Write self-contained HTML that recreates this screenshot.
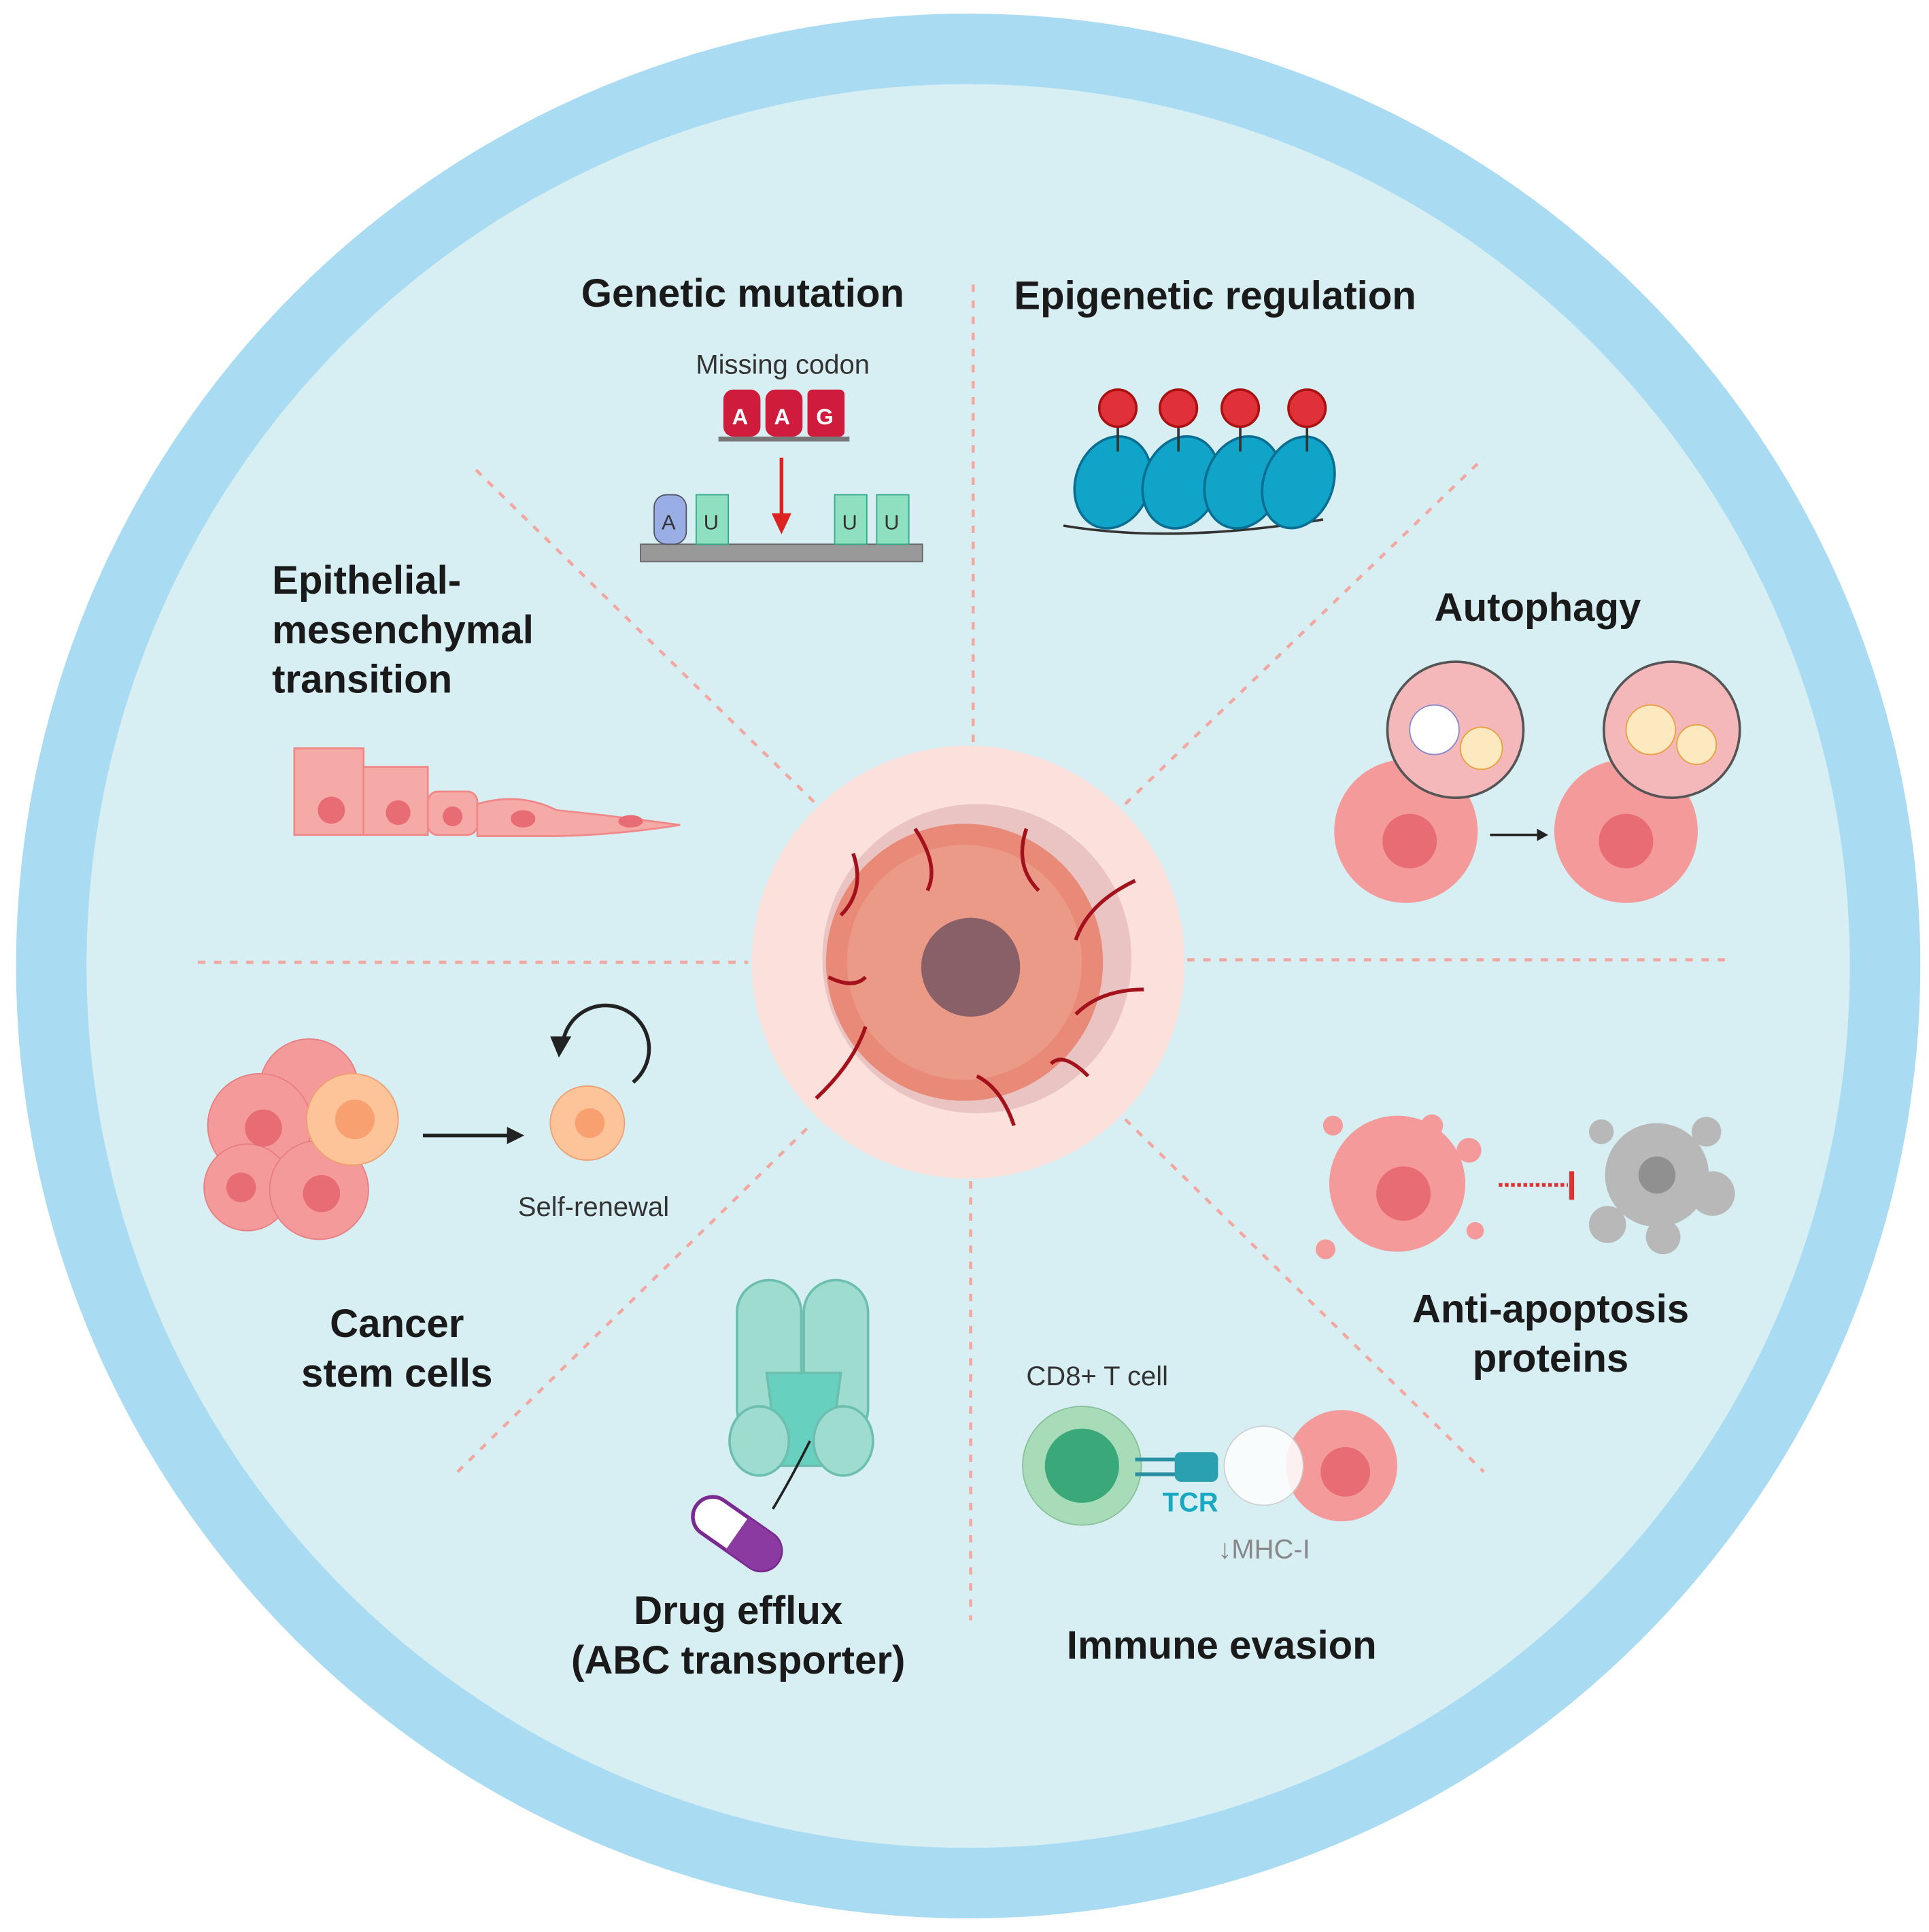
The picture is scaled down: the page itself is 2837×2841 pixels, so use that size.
<!DOCTYPE html>
<html><head><meta charset="utf-8"><style>
html,body{margin:0;padding:0;background:#fff}
svg{display:block}
text{font-family:"Liberation Sans",sans-serif}
.t{font-weight:bold;font-size:32px;fill:#1a1a1a}
.s{font-size:22px;fill:#333}
</style></head><body>
<svg width="2837" height="2841" viewBox="0 0 1560 1562" preserveAspectRatio="none" xmlns="http://www.w3.org/2000/svg">
<rect width="1560" height="1562" fill="#fff"/>
<circle cx="783" cy="781" r="770" fill="#a9dcf3"/>
<circle cx="783" cy="781" r="713" fill="#d7eff3"/>
<g stroke="#f2a8a0" stroke-width="2.5" stroke-dasharray="6 7" fill="none">
<line x1="787" y1="230" x2="787" y2="600"/>
<line x1="785" y1="955" x2="785" y2="1310"/>
<line x1="160" y1="778" x2="605" y2="778"/>
<line x1="960" y1="776" x2="1400" y2="776"/>
<line x1="385" y1="380" x2="660" y2="650"/>
<line x1="910" y1="650" x2="1200" y2="370"/>
<line x1="370" y1="1190" x2="655" y2="910"/>
<line x1="910" y1="905" x2="1200" y2="1190"/>
</g>
<circle cx="783" cy="778" r="175" fill="#fbe0dc"/>
<circle cx="790" cy="775" r="125" fill="#d9a8a8" opacity="0.5"/>
<circle cx="780" cy="778" r="112" fill="#e98a78"/>
<circle cx="780" cy="778" r="95" fill="#ec9a88"/>
<circle cx="785" cy="782" r="40" fill="#8a6068"/>
<g stroke="#a3121c" stroke-width="3" fill="none">
<path d="M690 690 Q700 720 680 740 M740 670 Q760 700 750 720 M830 670 Q820 700 840 720 M918 712 Q880 730 870 760 M925 800 Q890 800 870 820 M820 910 Q810 880 790 870 M660 888 Q690 860 700 830 M670 790 Q690 800 700 790 M880 870 Q860 850 850 860"/>
</g>
<!-- Titles -->
<text class="t" x="470" y="248">Genetic mutation</text>
<text class="t" x="820" y="250">Epigenetic regulation</text>
<text class="t" x="1160" y="502">Autophagy</text>
<text class="t" x="220" y="480">Epithelial-</text>
<text class="t" x="220" y="520">mesenchymal</text>
<text class="t" x="220" y="560">transition</text>
<text class="t" x="321" y="1081" text-anchor="middle">Cancer</text>
<text class="t" x="321" y="1121" text-anchor="middle">stem cells</text>
<text class="t" x="597" y="1313" text-anchor="middle">Drug efflux</text>
<text class="t" x="597" y="1353" text-anchor="middle">(ABC transporter)</text>
<text class="t" x="988" y="1341" text-anchor="middle">Immune evasion</text>
<text class="t" x="1254" y="1069" text-anchor="middle">Anti-apoptosis</text>
<text class="t" x="1254" y="1109" text-anchor="middle">proteins</text>
<!-- Genetic mutation -->
<text class="s" x="633" y="302" text-anchor="middle">Missing codon</text>
<g fill="#d01c3c"><rect x="585" y="315" width="30" height="38" rx="8"/><rect x="619" y="315" width="30" height="38" rx="8"/><rect x="653" y="315" width="30" height="38" rx="4"/></g>
<g fill="#fff" font-size="18" font-weight="bold" font-family="Liberation Sans"><text x="592" y="343">A</text><text x="626" y="343">A</text><text x="660" y="343">G</text></g>
<rect x="581" y="353" width="106" height="4" fill="#777"/>
<line x1="632" y1="370" x2="632" y2="420" stroke="#d22" stroke-width="3"/><polygon points="624,415 640,415 632,432" fill="#d22"/>
<rect x="518" y="440" width="228" height="14" fill="#999" stroke="#666"/>
<rect x="529" y="400" width="26" height="40" rx="10" fill="#9aaee6" stroke="#556"/>
<rect x="563" y="400" width="26" height="40" fill="#8fe0c0" stroke="#3a8"/>
<rect x="675" y="400" width="26" height="40" fill="#8fe0c0" stroke="#3a8"/>
<rect x="709" y="400" width="26" height="40" fill="#8fe0c0" stroke="#3a8"/>
<g font-size="17" fill="#333"><text x="535" y="428">A</text><text x="569" y="428">U</text><text x="681" y="428">U</text><text x="715" y="428">U</text></g>
<!-- Epigenetic -->
<path d="M860 425 Q950 440 1070 420" stroke="#333" stroke-width="2" fill="none"/>
<g fill="#10a5c8" stroke="#0a6e92" stroke-width="2">
<ellipse cx="900" cy="390" rx="30" ry="38" transform="rotate(20 900 390)"/>
<ellipse cx="955" cy="390" rx="30" ry="38" transform="rotate(20 955 390)"/>
<ellipse cx="1005" cy="390" rx="30" ry="38" transform="rotate(20 1005 390)"/>
<ellipse cx="1050" cy="390" rx="28" ry="38" transform="rotate(20 1050 390)"/>
</g>
<g stroke="#333" stroke-width="2"><line x1="904" y1="345" x2="904" y2="365"/><line x1="953" y1="345" x2="953" y2="365"/><line x1="1003" y1="345" x2="1003" y2="365"/><line x1="1057" y1="345" x2="1057" y2="365"/></g>
<g fill="#e0303a" stroke="#a11" stroke-width="2"><circle cx="904" cy="330" r="15"/><circle cx="953" cy="330" r="15"/><circle cx="1003" cy="330" r="15"/><circle cx="1057" cy="330" r="15"/></g>
<!-- Autophagy -->
<g fill="#f49a9a"><circle cx="1137" cy="672" r="58"/><circle cx="1315" cy="672" r="58"/></g>
<g fill="#e86c74"><circle cx="1140" cy="680" r="22"/><circle cx="1315" cy="680" r="22"/></g>
<g stroke="#555" stroke-width="2" fill="#f4b8ba"><circle cx="1177" cy="590" r="55"/><circle cx="1352" cy="590" r="55"/></g>
<circle cx="1160" cy="590" r="20" fill="#fff" stroke="#88c"/><circle cx="1198" cy="605" r="17" fill="#fde9c0" stroke="#e9a040"/>
<circle cx="1335" cy="590" r="20" fill="#fde9c0" stroke="#e9a040"/><circle cx="1372" cy="602" r="16" fill="#fde9c0" stroke="#e9a040"/>
<line x1="1205" y1="675" x2="1245" y2="675" stroke="#222" stroke-width="2"/><polygon points="1243,670 1252,675 1243,680" fill="#222"/>
<!-- EMT cells -->
<g fill="#f6aaa8" stroke="#f08888" stroke-width="1.5">
<rect x="238" y="605" width="56" height="70"/><rect x="294" y="620" width="52" height="55"/><rect x="346" y="640" width="40" height="35" rx="8"/>
<path d="M386 650 Q420 640 450 655 Q500 660 550 667 Q500 675 450 676 L386 676Z"/>
</g>
<g fill="#e86c74"><circle cx="268" cy="655" r="11"/><circle cx="322" cy="657" r="10"/><circle cx="366" cy="660" r="8"/><ellipse cx="423" cy="662" rx="10" ry="7"/><ellipse cx="510" cy="664" rx="10" ry="5"/></g>
<!-- Cancer stem cells -->
<g fill="#f49a9a" stroke="#e87e82"><circle cx="250" cy="880" r="40"/><circle cx="210" cy="910" r="42"/><circle cx="200" cy="960" r="35"/><circle cx="258" cy="962" r="40"/></g>
<circle cx="285" cy="905" r="37" fill="#fdc49a" stroke="#f0a070"/><circle cx="287" cy="905" r="16" fill="#f8a070"/>
<g fill="#e86c74"><circle cx="213" cy="912" r="15"/><circle cx="260" cy="965" r="15"/><circle cx="195" cy="960" r="12"/></g>
<line x1="342" y1="918" x2="412" y2="918" stroke="#222" stroke-width="3"/><polygon points="410,911 424,918 410,925" fill="#222"/>
<circle cx="475" cy="908" r="30" fill="#fdc49a" stroke="#f0a070"/><circle cx="477" cy="908" r="12" fill="#f8a070"/>
<path d="M512 875 A35 35 0 1 0 455 845" stroke="#222" stroke-width="3" fill="none"/><polygon points="445,838 462,838 452,855" fill="#222"/>
<text class="s" x="480" y="983" text-anchor="middle">Self-renewal</text>
<!-- Drug efflux -->
<g fill="#9fdcd0" stroke="#6cbfae" stroke-width="2">
<rect x="596" y="1035" width="52" height="130" rx="26"/><rect x="650" y="1035" width="52" height="130" rx="26"/>
<path d="M620 1110 L680 1110 L670 1185 L630 1185Z" fill="#68d0be"/>
<ellipse cx="614" cy="1165" rx="24" ry="28"/><ellipse cx="682" cy="1165" rx="24" ry="28"/>
</g>
<path d="M625 1220 Q640 1195 655 1165" stroke="#222" stroke-width="2" fill="none"/>
<g transform="rotate(35 596 1240)"><rect x="556" y="1224" width="80" height="32" rx="16" fill="#fff" stroke="#7a2a90" stroke-width="3"/><path d="M596 1224 h24 a16 16 0 0 1 0 32 h-24z" fill="#8a3aa0"/></g>
<!-- Immune evasion -->
<text class="s" x="830" y="1120">CD8+ T cell</text>
<circle cx="875" cy="1185" r="48" fill="#a8dcb8" stroke="#88c09a"/><circle cx="875" cy="1185" r="30" fill="#3aa878"/>
<g stroke="#2a8fa0" stroke-width="3"><line x1="918" y1="1180" x2="985" y2="1180"/><line x1="918" y1="1192" x2="985" y2="1192"/></g>
<rect x="950" y="1174" width="35" height="24" rx="5" fill="#2aa0b0"/>
<circle cx="1085" cy="1185" r="45" fill="#f49a9a"/><circle cx="1088" cy="1190" r="20" fill="#e86c74"/>
<circle cx="1022" cy="1185" r="32" fill="#fff" opacity="0.85" stroke="#ccc"/>
<text x="940" y="1222" font-size="22" font-weight="bold" fill="#18a8c0">TCR</text>
<text x="985" y="1260" font-size="22" fill="#888">↓MHC-I</text>
<!-- Anti-apoptosis -->
<circle cx="1130" cy="957" r="55" fill="#f49a9a"/><circle cx="1135" cy="965" r="22" fill="#e86c74"/>
<g fill="#f49a9a"><circle cx="1078" cy="910" r="8"/><circle cx="1188" cy="930" r="10"/><circle cx="1072" cy="1010" r="8"/><circle cx="1193" cy="995" r="7"/><circle cx="1158" cy="910" r="9"/></g>
<line x1="1212" y1="958" x2="1268" y2="958" stroke="#d33" stroke-width="3" stroke-dasharray="3 2"/><line x1="1271" y1="947" x2="1271" y2="970" stroke="#d33" stroke-width="4"/>
<g fill="#b8b8b8"><circle cx="1340" cy="950" r="42"/><circle cx="1385" cy="965" r="18"/><circle cx="1300" cy="990" r="15"/><circle cx="1345" cy="1000" r="14"/><circle cx="1380" cy="915" r="12"/><circle cx="1295" cy="915" r="10"/></g>
<circle cx="1340" cy="950" r="15" fill="#909090"/>
</svg>
</body></html>
